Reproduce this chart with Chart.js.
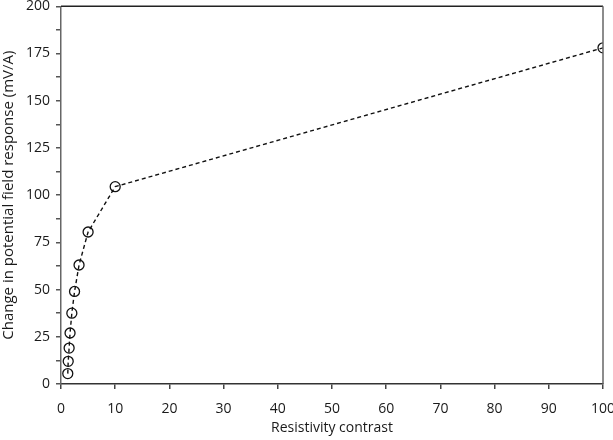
<!DOCTYPE html>
<html>
<head>
<meta charset="utf-8">
<script src="https://cdn.jsdelivr.net/npm/chart.js@4"></script>
<style>
  html, body { margin: 0; padding: 0; background: #fff; }
  #wrap { width: 613px; height: 440px; }
</style>
</head>
<body>
<div id="wrap"><canvas id="myChart"></canvas></div>
<script>
  // values
  var contrast = [1.25, 1.33, 1.5, 1.67, 2, 2.5, 3.33, 5, 10, 100];
  var response = [5.5, 12, 19, 27, 37.5, 49, 63, 80.5, 104.5, 178];
  var yTickLabels = [0, 25, 50, 75, 100, 125, 150, 175, 200];

  var points = contrast.map(function (c, i) {
    return { x: c, y: response[i] };
  });

  // top and right sides of the frame
  var frame = {
    id: "frame",
    afterDraw: function (chart) {
      var a = chart.chartArea, ctx = chart.ctx;
      ctx.save();
      ctx.lineWidth = 1.5;
      ctx.strokeStyle = "#222";
      ctx.beginPath();
      ctx.moveTo(a.left, a.top);
      ctx.lineTo(a.right, a.top);
      ctx.stroke();
      ctx.strokeStyle = "#666";
      ctx.beginPath();
      ctx.moveTo(a.right, a.top);
      ctx.lineTo(a.right, a.bottom);
      ctx.stroke();
      ctx.restore();
    }
  };

  Chart.defaults.font.family = "'Open Sans', sans-serif";
  Chart.defaults.color = "#1a1a1a";

  new Chart("myChart", {
    type: "scatter",
    data: {
      datasets: [
        {
          data: points,
          showLine: true,
          borderColor: "#111",
          borderWidth: 1.4,
          borderDash: [4, 3],
          pointRadius: 5,
          pointHoverRadius: 5,
          pointBorderWidth: 1.3,
          pointBorderColor: "#111",
          pointBackgroundColor: "rgba(0,0,0,0)",
        },
      ],
    },
    plugins: [frame],
    options: {
      responsive: true,
      maintainAspectRatio: false,
      animation: false,
      layout: { padding: { top: 4, right: 10, left: 0, bottom: 0 } },
      scales: {
        x: {
          type: "linear",
          min: 0,
          max: 100,
          ticks: { stepSize: 10, padding: 12, font: { size: 14 } },
          grid: { drawOnChartArea: false, tickLength: 5, color: "#444", lineWidth: 1.5 },
          border: { color: "#333", width: 1.5 },
          title: { display: true, text: "Resistivity contrast", font: { size: 14 }, padding: { top: 0 } },
          afterFit: function (s) {
            s.height = 56;
            s.paddingLeft = 0;
            s.paddingRight = 0;
          },
        },
        y: {
          min: 0,
          max: 200,
          ticks: {
            stepSize: 12.5,
            padding: 6,
            font: { size: 14 },
            callback: function (v) {
              return yTickLabels.indexOf(v) >= 0 ? String(v) : "";
            },
          },
          grid: { drawOnChartArea: false, tickLength: 5, color: "#555", lineWidth: 1.5 },
          border: { color: "#666", width: 1.5 },
          title: { display: true, text: "Change in potential field response (mV/A)", font: { size: 15 }, padding: { top: 0, bottom: 3 } },
          afterFit: function (s) {
            s.width = 61;
            s.paddingTop = 0;
            s.paddingBottom = 0;
          },
        },
      },
      plugins: {
        legend: { display: false },
        tooltip: { enabled: false },
      },
    },
  });
</script>
</body>
</html>
